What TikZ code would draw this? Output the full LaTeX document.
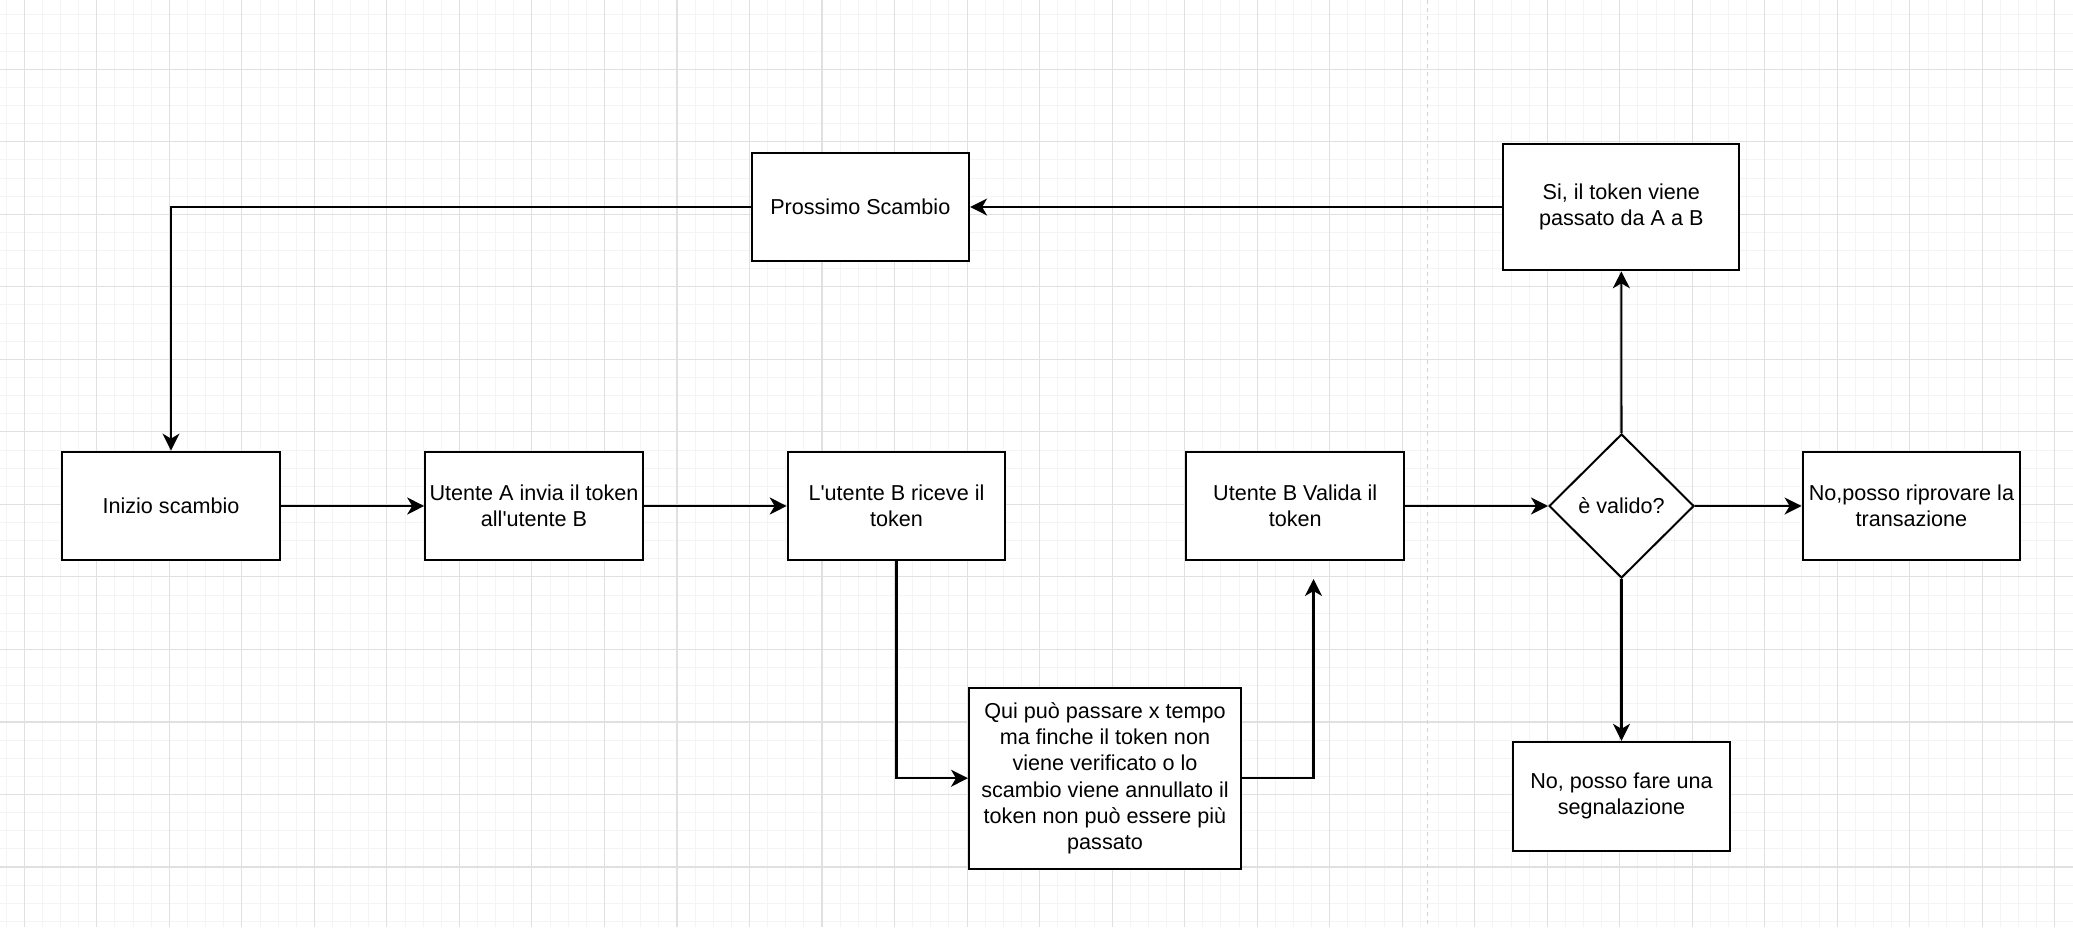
\documentclass[tikz,border=0pt]{standalone}
\usepackage{fontspec}
\setmainfont{Liberation Sans}
\usetikzlibrary{arrows.meta,shapes.geometric}

\definecolor{gridminor}{HTML}{F4F4F4}
\definecolor{gridmajor}{HTML}{E0E0E0}
\definecolor{pageline}{HTML}{D2D2D2}

\begin{document}
\begin{tikzpicture}[x=1pt,y=-1pt,
  label font/.style={font=\fontsize{21.6}{26.2}\selectfont},
  stepbox/.style={draw=black, line width=2pt, fill=white, inner sep=0pt,
    align=center, label font, minimum width=217.6, minimum height=108.8},
  decision/.style={diamond, draw=black, line width=2pt, fill=white,
    inner sep=0pt, label font, minimum width=145, minimum height=144},
  link/.style={line width=2.1pt, line join=miter},
  flow/.style={link, -{Stealth[length=17pt, width=17pt, inset=5pt]}}]

% canvas and background grid
\useasboundingbox (0,0) rectangle (2073,927);
\fill[white] (0,0) rectangle (2073,927);
\foreach \k in {0,...,114}
  \draw[gridminor, line width=1pt] ({6.2+18.13*\k},0) -- ({6.2+18.13*\k},927);
\foreach \k in {0,...,50}
  \draw[gridminor, line width=1pt] (0,{14.9+18.13*\k}) -- (2073,{14.9+18.13*\k});
\foreach \k in {0,...,28}
  \draw[gridmajor, line width=1.1pt] ({24.3+72.52*\k},0) -- ({24.3+72.52*\k},927);
\foreach \k in {0,...,11}
  \draw[gridmajor, line width=1.1pt] (0,{69.3+72.52*\k}) -- (2073,{69.3+72.52*\k});

% page break marker
\draw[pageline, line width=1.4pt, dash pattern=on 4pt off 4pt] (1427.7,0) -- (1427.7,927);

% steps
\node[stepbox] (start) at (171,506) {Inizio scambio};
\node[stepbox] (send) at (534,506) {Utente A invia il token\\all\textquotesingle utente B};
\node[stepbox] (recv) at (896.5,506) {L\textquotesingle utente B riceve il\\token};
\node[stepbox, minimum width=272, minimum height=181.3] (wait) at (1105,778.2)
  {Qui può passare x tempo\\ma finche il token non\\viene verificato o lo\\scambio viene annullato il\\token non può essere più\\passato};
\node[stepbox] (check) at (1295.2,506) {Utente B Valida il\\token};
\node[decision] (valid) at (1621.5,506) {è valido?};
\node[stepbox] (retry) at (1911.4,506) {No,posso riprovare la\\transazione};
\node[stepbox] (report) at (1621.5,796.2) {No, posso fare una\\segnalazione};
\node[stepbox, minimum width=236, minimum height=126.6] (yes) at (1621.3,207)
  {Si, il token viene\\passato da A a B};
\node[stepbox] (next) at (860.3,207) {Prossimo Scambio};

\coordinate (waitend) at (1313.5,579);

% connectors
\draw[flow] (start) -- (send);
\draw[flow] (send) -- (recv);
\draw[flow] (recv.south) |- (wait.west);
\draw[flow] (wait.east) -| (waitend);
\draw[flow] (check) -- (valid);
\draw[flow] (valid) -- (retry);
\draw[flow] (valid) -- (report);
\draw[flow] (valid) -- (yes);
\draw[flow] (yes) -- (next);
\draw[flow] (next.west) -| (start.north);

\end{tikzpicture}
\end{document}
